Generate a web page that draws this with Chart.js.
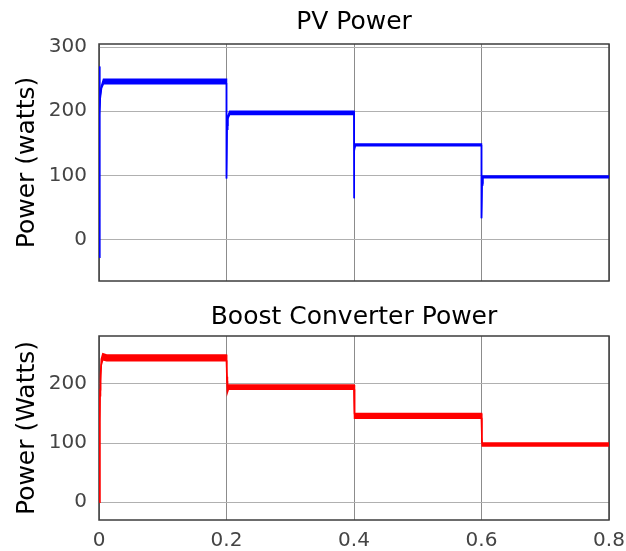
<!DOCTYPE html>
<html>
<head>
<meta charset="utf-8">
<script src="https://cdn.jsdelivr.net/npm/chart.js@4.4.1/dist/chart.umd.min.js"></script>
<style>
  body { margin: 0; background: #fff; }
  canvas { position: absolute; left: 0; }
  #pv-chart { top: 0; }
  #boost-chart { top: 290px; }
</style>
</head>
<body>
<canvas id="pv-chart" width="626" height="290"></canvas>
<canvas id="boost-chart" width="626" height="261"></canvas>
<script>
// time (s) and power (W); high/low give the ripple band
const pvTime = [0.0008, 0.0008, 0.0012, 0.002, 0.004, 0.007, 0.2, 0.2, 0.2008, 0.202, 0.205, 0.4, 0.4, 0.4008, 0.402, 0.6, 0.6, 0.6008, 0.602, 0.8];
const pvHigh = [-28, 270, 200, 225, 240, 250, 250, 95, 178, 192, 200, 200, 64, 142, 149, 149, 33, 88, 99, 99];
const pvLow = [-28, 270, 195, 220, 236, 243, 243, 95, 172, 188, 195, 195, 64, 138, 146, 146, 33, 85, 96, 96];

const boostTime = [0.0008, 0.0012, 0.0016, 0.0024, 0.0036, 0.006, 0.012, 0.2, 0.2003, 0.2008, 0.2015, 0.203, 0.4, 0.4008, 0.6, 0.6005, 0.601, 0.8];
const boostHigh = [0, 140, 190, 215, 242, 251, 249, 249, 230, 212, 193, 198, 198, 150, 150, 110, 100, 100];
const boostLow = [0, 135, 180, 205, 232, 241, 239, 239, 220, 205, 186, 191, 191, 142, 142, 105, 95, 95];

const xTicks = [0, 0.2, 0.4, 0.6, 0.8];
const pvYTicks = [0, 100, 200, 300];
const boostYTicks = [0, 100, 200];

const toPoints = (times, values) => times.map((t, i) => ({ x: t, y: values[i] }));

const boxPlugin = {
  id: "box",
  beforeDatasetsDraw(chart) {
    const { ctx, chartArea } = chart;
    ctx.save();
    ctx.strokeStyle = "#3c3c3c";
    ctx.lineWidth = 1.5;
    ctx.strokeRect(chartArea.left, chartArea.top, chartArea.right - chartArea.left, chartArea.bottom - chartArea.top);
    ctx.restore();
  },
};

const makeChart = (canvasId, cfg) => {
  const ctx = document.getElementById(canvasId).getContext("2d");
  return new Chart(ctx, {
    type: "line",
    data: {
      datasets: [
        {
          data: toPoints(cfg.time, cfg.high),
          borderColor: cfg.color,
          borderWidth: 1.5,
          pointRadius: 0,
          fill: false,
        },
        {
          data: toPoints(cfg.time, cfg.low),
          borderColor: cfg.color,
          backgroundColor: cfg.color,
          borderWidth: 1.5,
          pointRadius: 0,
          fill: "-1",
        },
      ],
    },
    options: {
      responsive: false,
      animation: false,
      layout: { padding: { right: 17, left: 0, top: 0, bottom: 0 } },
      plugins: {
        legend: { display: false },
        tooltip: { enabled: false },
        title: {
          display: true,
          fullSize: false,
          text: cfg.title,
          color: "#000",
          font: { family: "DejaVu Sans", size: 25, weight: "normal" },
          padding: cfg.titlePadding,
        },
      },
      scales: {
        x: {
          type: "linear",
          min: 0,
          max: 0.8,
          afterBuildTicks: (scale) => {
            scale.ticks = xTicks.map((v) => ({ value: v }));
          },
          afterFit: (scale) => {
            scale.height = cfg.xHeight;
            scale.paddingLeft = 0;
            scale.paddingRight = 0;
          },
          ticks: {
            display: cfg.showXLabels,
            padding: 9,
            color: "#444",
            maxRotation: 0,
            font: { family: "DejaVu Sans", size: 20 },
          },
          grid: { color: "#8c8c8c", lineWidth: 1, drawTicks: false },
          border: { display: false },
        },
        y: {
          min: cfg.yMin,
          max: cfg.yMax,
          afterBuildTicks: (scale) => {
            scale.ticks = cfg.yTicks.map((v) => ({ value: v }));
          },
          afterFit: (scale) => {
            scale.width = 99;
            scale.paddingTop = 0;
            scale.paddingBottom = 0;
          },
          ticks: {
            padding: 12,
            color: "#444",
            font: { family: "DejaVu Sans", size: 20 },
          },
          title: {
            display: true,
            text: cfg.yTitle,
            color: "#000",
            font: { family: "DejaVu Sans", size: 25 },
            padding: { top: 12, bottom: 0 },
          },
          grid: { color: "#b0b0b0", lineWidth: 1, drawTicks: false },
          border: { display: false },
        },
      },
    },
    plugins: [boxPlugin],
  });
};

makeChart("pv-chart", {
  time: pvTime,
  high: pvHigh,
  low: pvLow,
  color: "#0000ff",
  title: "PV Power",
  titlePadding: { top: 7, bottom: 7 },
  yTitle: "Power (watts)",
  yMin: -65,
  yMax: 305,
  yTicks: pvYTicks,
  xHeight: 9,
  showXLabels: false,
});

makeChart("boost-chart", {
  time: boostTime,
  high: boostHigh,
  low: boostLow,
  color: "#ff0000",
  title: "Boost Converter Power",
  titlePadding: { top: 12, bottom: 4 },
  yTitle: "Power (Watts)",
  yMin: -30,
  yMax: 281,
  yTicks: boostYTicks,
  xHeight: 31,
  showXLabels: true,
});
</script>
</body>
</html>
